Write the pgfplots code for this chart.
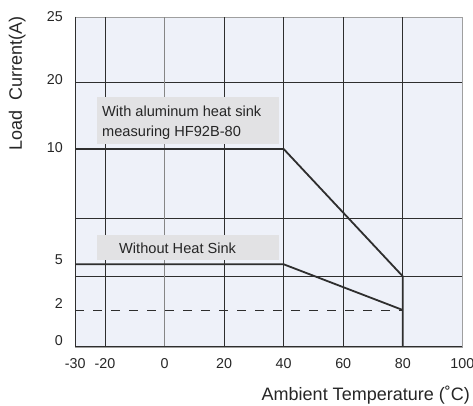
\documentclass[border=0pt]{standalone}
\usepackage{pgfplots}
\pgfplotsset{compat=1.18}
\usepackage{fontspec}
\setmainfont{Liberation Sans}
\definecolor{bg}{HTML}{EEF1F9}
\definecolor{boxc}{HTML}{E2E2E4}
\definecolor{gridc}{HTML}{2E2E2E}
\definecolor{txt}{HTML}{262626}
\begin{document}
\begin{tikzpicture}
% y values are in display units of the chart's non-linear scale:
% 0 A -> 0, 2 A -> 36.7, 5 A -> 82.4, 10 A -> 197.7, 20 A -> 264.4, 25 A -> 330
\begin{axis}[
  scale only axis, width=387pt, height=330pt,
  xmin=-30, xmax=100, ymin=0, ymax=330,
  axis background/.style={fill=bg},
  axis line style={draw=gray!75},
  xtick={-30,-20,0,20,40,60,80,100},
  ytick={5.7,42.7,86.7,198.7,266.7,330},
  yticklabels={0,2,5,10,20,25},
  major tick length=0pt,
  /pgf/number format/assume math mode=true,
  tick label style={font=\fontsize{14.3}{16}\selectfont, text=txt},
  xticklabel style={yshift=-8pt},
  yticklabel style={xshift=-9pt},
  extra x ticks={-20,0,20,40,60,80}, extra x tick labels={},
  extra y ticks={70.4,128.4,264.4}, extra y tick labels={},
  extra tick style={grid=major, major grid style={draw=gridc, line width=0.8pt}},
  clip=false,
]
% lighter zero line
\draw[draw=gray!95, line width=1.4pt] (axis cs:0,0) -- (axis cs:0,330);
% darker left / bottom border
\draw[gridc, line width=0.9pt] (rel axis cs:0,1) -- (rel axis cs:0,0) -- (rel axis cs:1,0);
% label boxes
\fill[boxc] (axis cs:-22.7,249.7) rectangle (axis cs:38.4,203);
\fill[boxc] (axis cs:-22.7,111.7) rectangle (axis cs:38.4,86.9);
% 2 A dashed reference
\addplot[gridc, line width=0.8pt, dash pattern=on 9pt off 9pt] coordinates {(-30,36.7) (80,36.7)};
% with aluminium heat sink
\addplot[gridc, line width=1.8pt, line join=miter] coordinates {(-30,197.7) (40,197.7) (80,70.4) (80,0)};
% without heat sink
\addplot[gridc, line width=1.8pt] coordinates {(-30,82.4) (40,82.4) (80,36.7)};
% texts
\node[anchor=base west, text=txt, font=\fontsize{14.6}{17}\selectfont, inner sep=0pt] at (axis cs:-21.03,230) {With aluminum heat sink};
\node[anchor=base west, text=txt, font=\fontsize{14.6}{17}\selectfont, inner sep=0pt] at (axis cs:-21.03,210) {measuring HF92B-80};
\node[anchor=base west, text=txt, font=\fontsize{14.6}{17}\selectfont, inner sep=0pt] at (axis cs:-15.32,93.7) {Without Heat Sink};
\node[anchor=east, text=txt, font=\fontsize{18}{20}\selectfont, inner sep=0pt] at (rel axis cs:1.0199,-0.1464) {Ambient Temperature (˚C)};
\node[rotate=90, text=txt, font=\fontsize{18}{20}\selectfont, inner sep=0pt] at (rel axis cs:-0.1503,0.7988) {Load\ \ Current(A)};
\coordinate (bbsw) at (rel axis cs:-0.19457,-0.17667);
\coordinate (bbne) at (rel axis cs:1.02765,1.05061);
\end{axis}
\pgfresetboundingbox
\path (bbsw) rectangle (bbne);
\end{tikzpicture}
\end{document}
